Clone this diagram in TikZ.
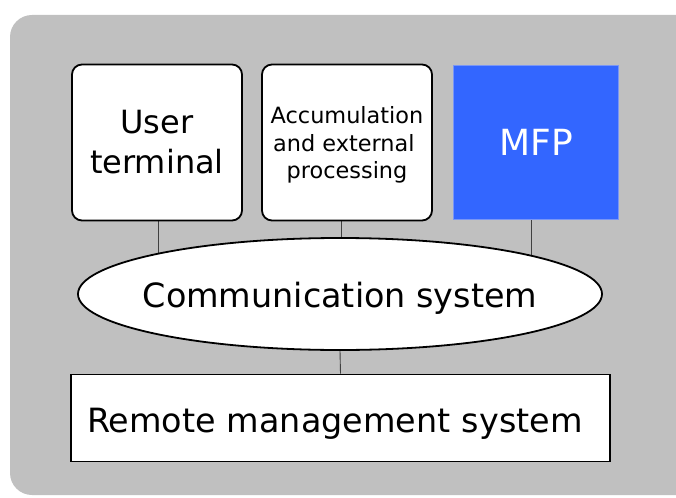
\documentclass[tikz,border=0pt]{standalone}
\usepackage{fontspec}
\setmainfont{DejaVu Sans}
\usetikzlibrary{shapes.geometric,calc}
\pgfdeclarelayer{back}
\pgfdeclarelayer{wires}
\pgfsetlayers{back,wires,main}
\definecolor{bggray}{HTML}{C0C0C0}
\definecolor{mfpblue}{HTML}{3366FF}
\definecolor{mfpedge}{HTML}{7A96F5}
\definecolor{wirecol}{HTML}{404040}
\tikzset{
  unitbox/.style={draw=black, line width=1.8pt, fill=white, rounded corners=10pt,
    minimum width=170pt, minimum height=156pt, inner sep=0pt, align=center},
  mfpbox/.style={draw=mfpedge, line width=0.8pt, fill=mfpblue, text=white,
    minimum width=165pt, minimum height=154pt, inner sep=0pt, align=center,
    font=\fontsize{36}{40}\selectfont},
  commell/.style={ellipse, draw=black, line width=1.8pt, fill=white,
    minimum width=524pt, minimum height=112pt, inner sep=0pt},
  rmbox/.style={draw=black, line width=1.8pt, fill=white,
    minimum width=539pt, minimum height=87pt, inner xsep=16pt, inner ysep=0pt,
    text width=507pt, text height=30pt, text depth=2pt, align=left,
    font=\fontsize{33.4}{40}\selectfont},
  wire/.style={draw=wirecol, line width=0.9pt}
}
\begin{document}
\begin{tikzpicture}[x=1pt,y=-1pt]
\useasboundingbox (0,0) rectangle (676,497);
\begin{pgfonlayer}{back}
\fill[bggray, rounded corners=22pt] (10,15) rectangle (710,495);
\end{pgfonlayer}

\node[unitbox, font=\fontsize{32}{40}\selectfont] (ut) at (157,142.5) {User\\terminal};
\node[unitbox, text depth=0pt, font=\fontsize{22.4}{27.5}\selectfont] (acc) at (347,142.5) {Accumulation\\and external\phantom{l}\\processing};
\node[mfpbox] (mfp) at (536,142) {MFP};
\node[commell, label={[font=\fontsize{33.4}{40}\selectfont, yshift=-4pt]center:Communication system}] (cs) at (340,294) {};
\node[rmbox] (rm) at (340.5,418) {Remote management system};

\coordinate (w1) at ($(ut.south)+(1,0)$);
\coordinate (w2) at ($(acc.south)+(-6,0)$);
\coordinate (w3) at ($(mfp.south)+(-5,0)$);
\begin{pgfonlayer}{wires}
\draw[wire] (w1) -- (w1 |- cs.center);
\draw[wire] (w2) -- (w2 |- cs.center);
\draw[wire] (w3) -- (w3 |- cs.center);
\draw[wire] (cs.south) -- (rm.north);
\end{pgfonlayer}
\end{tikzpicture}
\end{document}
